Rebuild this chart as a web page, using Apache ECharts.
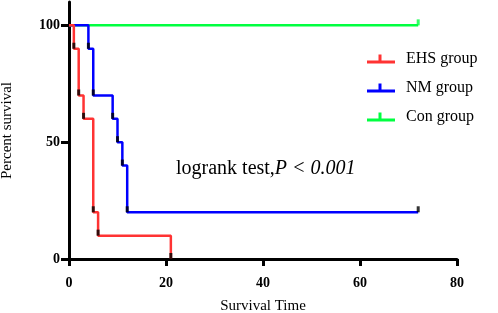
<!DOCTYPE html>
<html>
<head>
<meta charset="utf-8">
<script src="https://cdn.jsdelivr.net/npm/echarts@6/dist/echarts.min.js"></script>
<style>
html, body { margin: 0; padding: 0; background: #fff; }
#main { width: 498px; height: 313px; }
</style>
</head>
<body>
<div id="main"></div>
<script>
// survival data (time, percent survival)
var ehsTime = [0, 1, 2, 3, 5, 6, 21];
var ehsSurv = [100, 90, 70, 60, 20, 10, 0];
var nmTime = [0, 4, 5, 9, 10, 11, 12, 72];
var nmSurv = [100, 90, 70, 60, 50, 40, 20, 20];
var conTime = [0, 72];
var conSurv = [100, 100];
var groupNames = ['EHS group', 'NM group', 'Con group'];
var xTicks = [0, 20, 40, 60, 80];
var yTicks = [0, 50, 100];

var serif = 'Liberation Serif';

function pairs(t, s) {
    var out = [];
    for (var i = 0; i < t.length; i++) out.push([t[i], s[i]]);
    return out;
}

// tick marks at every event / end of curve
var blackMarks = pairs(ehsTime, ehsSurv).slice(1).concat(pairs(nmTime, nmSurv).slice(1));
var greenMarks = pairs(conTime, conSurv).slice(1);

var legendIcon = 'path://M0,12H56V18H0Z M23,0H29V12H23Z';

function curve(name, color, data) {
    return {
        name: name,
        type: 'line',
        step: 'end',
        data: data,
        symbol: 'none',
        color: color,
        lineStyle: { color: color, width: 2.5 },
        z: 3
    };
}

var myChart = echarts.init(document.getElementById('main'));
var option = {
    backgroundColor: '#FFFFFF',
    animation: false,
    grid: { left: 69, right: 41, top: 2, bottom: 54, outerBoundsMode: 'none' },
    legend: {
        data: groupNames,
        orient: 'vertical',
        left: 362,
        top: 46,
        itemWidth: 28,
        itemHeight: 9,
        itemGap: 13,
        icon: legendIcon,
        selectedMode: false,
        textStyle: { fontFamily: serif, fontSize: 16, color: '#000', padding: [0, 0, 0, 6] }
    },
    xAxis: {
        type: 'value',
        min: 0,
        max: 80,
        interval: 20,
        name: 'Survival Time',
        nameLocation: 'middle',
        nameGap: 40,
        nameTextStyle: { fontFamily: serif, fontSize: 15, color: '#000' },
        axisLine: { lineStyle: { color: '#000', width: 3 } },
        axisTick: { length: 7, lineStyle: { color: '#000', width: 3 }, customValues: xTicks },
        axisLabel: { fontFamily: serif, fontWeight: 'bold', fontSize: 14, color: '#000', margin: 17, customValues: xTicks },
        splitLine: { show: false }
    },
    yAxis: {
        type: 'value',
        min: 0,
        max: 110,
        interval: 50,
        name: 'Percent survival',
        nameLocation: 'middle',
        nameGap: 54,
        nameTextStyle: { fontFamily: serif, fontSize: 15, color: '#000' },
        axisLine: { lineStyle: { color: '#000', width: 3 } },
        axisTick: { length: 8, lineStyle: { color: '#000', width: 3 }, customValues: yTicks },
        axisLabel: { fontFamily: serif, fontWeight: 'bold', fontSize: 14, color: '#000', margin: 9, customValues: yTicks },
        splitLine: { show: false }
    },
    graphic: [{
        type: 'text',
        left: 176,
        top: 159,
        style: {
            text: '{a|logrank test,}{b|P < 0.001}',
            fill: '#000',
            rich: {
                a: { fontFamily: serif, fontSize: 20, color: '#000' },
                b: { fontFamily: serif, fontSize: 20, fontStyle: 'italic', color: '#000' }
            }
        }
    }],
    series: [
        curve('Con group', '#00ff40', pairs(conTime, conSurv)),
        curve('NM group', '#0000ff', pairs(nmTime, nmSurv)),
        curve('EHS group', '#ff3333', pairs(ehsTime, ehsSurv)),
        {
            type: 'scatter',
            data: blackMarks,
            symbol: 'rect',
            symbolSize: [3, 6],
            symbolOffset: [0, -3],
            itemStyle: { color: '#000' },
            silent: true,
            z: 4
        },
        {
            type: 'scatter',
            data: greenMarks,
            symbol: 'rect',
            symbolSize: [3, 6],
            symbolOffset: [0, -3],
            itemStyle: { color: '#00ff40' },
            silent: true,
            z: 4
        }
    ]
};
myChart.setOption(option);
window.addEventListener('resize', function () {
    myChart.resize();
});
</script>
</body>
</html>
